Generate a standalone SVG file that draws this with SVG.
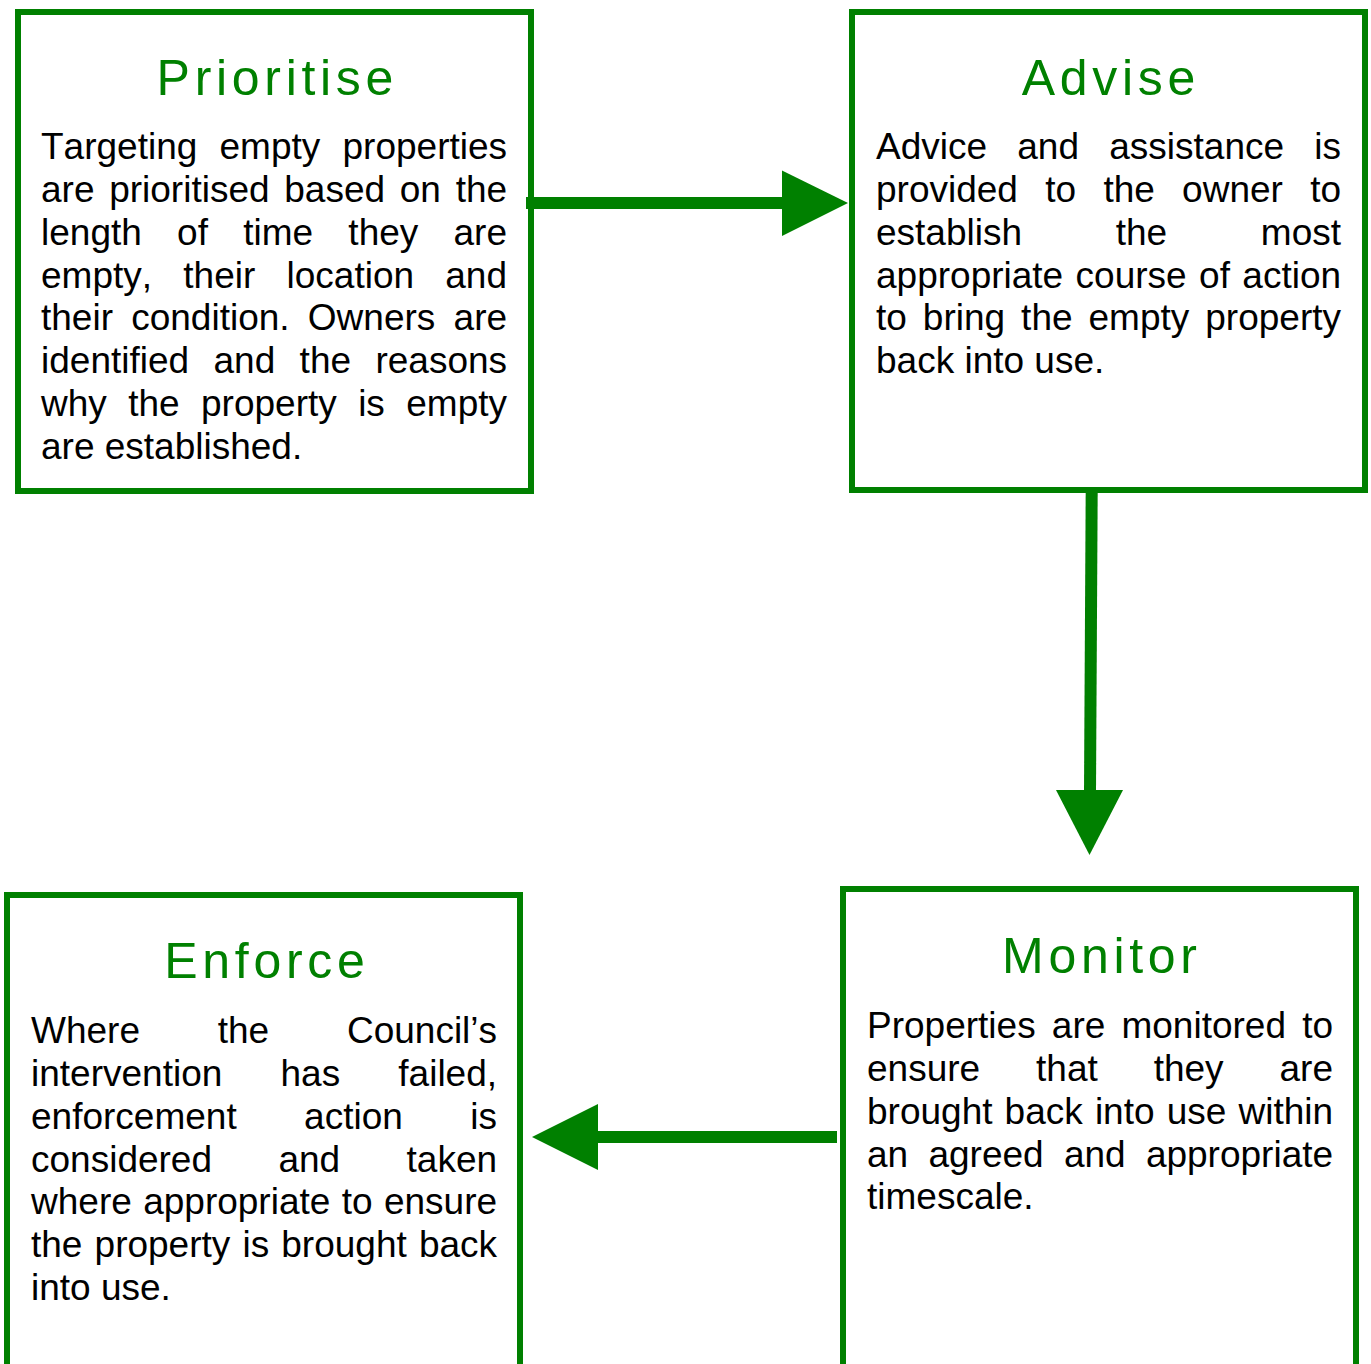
<svg xmlns="http://www.w3.org/2000/svg" width="1371" height="1364" viewBox="0 0 1371 1364">
<style>
.box{fill:#fff;stroke:#008000;stroke-width:6}
.title{font-family:"Liberation Sans",Arial,sans-serif;font-size:50px;fill:#008000;letter-spacing:4.7px;text-anchor:middle;font-kerning:none}
.body{font-family:"Liberation Sans",Arial,sans-serif;font-size:37px;fill:#000;font-kerning:none}
.line{stroke:#008000;stroke-width:12;fill:none}
.head{fill:#008000}
</style>
<rect width="1371" height="1364" fill="#fff"/>
<g id="prioritise">
<rect class="box" x="18" y="12" width="513" height="479"/>
<text class="title" x="277.35" y="95">Prioritise</text>
<text class="body" x="41" y="159" word-spacing="11.94">Targeting empty properties</text>
<text class="body" x="41" y="201.86" word-spacing="4.42">are prioritised based on the</text>
<text class="body" x="41" y="244.71" word-spacing="24.98">length of time they are</text>
<text class="body" x="41" y="287.57" word-spacing="20.97">empty, their location and</text>
<text class="body" x="41" y="330.43" word-spacing="7.96">their condition. Owners are</text>
<text class="body" x="41" y="373.29" word-spacing="14.10">identified and the reasons</text>
<text class="body" x="41" y="416.14" word-spacing="11.11">why the property is empty</text>
<text class="body" x="41" y="459">are established.</text>
</g>
<g id="advise">
<rect class="box" x="852" y="12" width="513" height="478"/>
<text class="title" x="1110.85" y="95">Advise</text>
<text class="body" x="876" y="159" word-spacing="19.96">Advice and assistance is</text>
<text class="body" x="876" y="201.86" word-spacing="17.02">provided to the owner to</text>
<text class="body" x="876" y="244.71" word-spacing="83.41">establish the most</text>
<text class="body" x="876" y="287.57" word-spacing="2.13">appropriate course of action</text>
<text class="body" x="876" y="330.43" word-spacing="5.71">to bring the empty property</text>
<text class="body" x="876" y="373.29">back into use.</text>
</g>
<g id="monitor">
<rect class="box" x="843" y="889" width="513" height="500"/>
<text class="title" x="1101.85" y="973">Monitor</text>
<text class="body" x="867" y="1038" word-spacing="5.90">Properties are monitored to</text>
<text class="body" x="867" y="1080.86" word-spacing="45.64">ensure that they are</text>
<text class="body" x="867" y="1123.71" word-spacing="1.85">brought back into use within</text>
<text class="body" x="867" y="1166.57" word-spacing="9.98">an agreed and appropriate</text>
<text class="body" x="867" y="1209.43">timescale.</text>
</g>
<g id="enforce">
<rect class="box" x="7" y="895" width="513" height="500"/>
<text class="title" x="266.85" y="978">Enforce</text>
<text class="body" x="31" y="1043" word-spacing="67.48">Where the Council’s</text>
<text class="body" x="31" y="1085.86" word-spacing="47.91">intervention has failed,</text>
<text class="body" x="31" y="1128.71" word-spacing="57.17">enforcement action is</text>
<text class="body" x="31" y="1171.57" word-spacing="56.12">considered and taken</text>
<text class="body" x="31" y="1214.43" word-spacing="1.09">where appropriate to ensure</text>
<text class="body" x="31" y="1257.29" word-spacing="1.85">the property is brought back</text>
<text class="body" x="31" y="1300.14">into use.</text>
</g>
<g id="connectors">
<line class="line" x1="526" y1="203" x2="784" y2="203"/>
<polygon class="head" points="782,170.5 848,203 782,236"/>
<line class="line" x1="1091.7" y1="490" x2="1090" y2="792"/>
<polygon class="head" points="1056,790 1123,790 1089.5,855"/>
<line class="line" x1="837" y1="1137" x2="596" y2="1137"/>
<polygon class="head" points="598,1104 532,1137 598,1170"/>
</g>
</svg>
